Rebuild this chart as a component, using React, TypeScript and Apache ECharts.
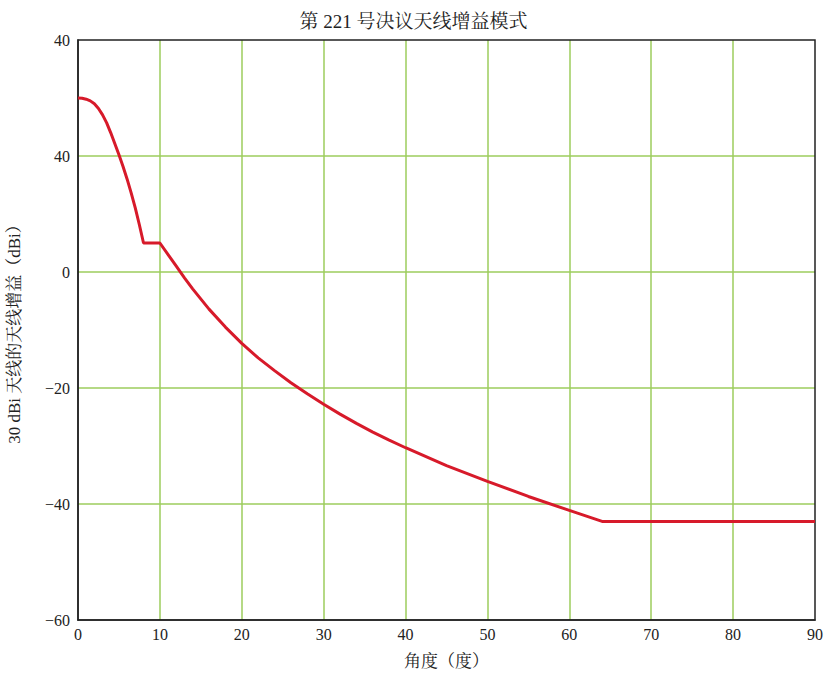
import React, { useEffect, useRef } from "react";
import * as echarts from "echarts";

const title = "第 221 号决议天线增益模式";
const xAxisName = "角度（度）";
const yAxisName = "30 dBi 天线的天线增益（dBi）";

const angles = [0, 0.5, 1, 1.5, 2, 2.5, 3, 3.5, 4, 4.5, 5, 5.5, 6, 6.5, 7, 7.5, 8, 10, 11, 12, 13, 14, 16, 18, 20, 22, 24, 26, 28, 30, 32, 34, 36, 38, 40, 45, 50, 55, 60, 64, 70, 80, 90];
const gains = [30, 29.95, 29.8, 29.5, 29.0, 28.2, 27.1, 25.7, 24.0, 22.1, 20.2, 18.2, 16.0, 13.6, 11.0, 8.1, 5, 5, 3.0, 1.0, -1.0, -2.9, -6.4, -9.5, -12.3, -14.8, -17.0, -19.1, -21.0, -22.8, -24.5, -26.1, -27.6, -29.0, -30.3, -33.4, -36.1, -38.7, -41.1, -43.0, -43.0, -43.0, -43.0];

const yTickValues = [-60, -40, -20, 0, 20, 40];
const yTickLabels = ["−60", "−40", "−20", "0", "40", "40"];

const serif = "'Liberation Serif', 'Noto Serif CJK SC', 'Noto Sans CJK SC', serif";

export default function App() {
  const ref = useRef<HTMLDivElement>(null);
  useEffect(() => {
    if (!ref.current) return;
    const chart = echarts.init(ref.current, undefined, { renderer: "svg" });
    const data = angles.map((a, i) => [a, gains[i]]);
    chart.setOption({
      animation: false,
      backgroundColor: "#ffffff",
      title: {
        text: title,
        left: "center",
        top: 7,
        textStyle: { fontFamily: serif, fontSize: 19, fontWeight: "normal", color: "#222" },
      },
      grid: {
        left: 78,
        right: 12,
        top: 40,
        bottom: 53,
        containLabel: false,
        outerBoundsMode: "none",
        show: true,
        borderColor: "#222",
        borderWidth: 1.5,
        backgroundColor: "transparent",
        z: 3,
      },
      xAxis: {
        type: "value",
        min: 0,
        max: 90,
        interval: 10,
        name: xAxisName,
        nameLocation: "middle",
        nameGap: 33,
        nameTextStyle: { fontFamily: serif, fontSize: 17, color: "#222" },
        axisLine: { show: true, onZero: false, lineStyle: { color: "#222", width: 1.5 } },
        axisTick: { show: false },
        axisLabel: { fontFamily: serif, fontSize: 16, color: "#222", margin: 6 },
        splitLine: { show: true, showMinLine: false, showMaxLine: false, lineStyle: { color: "#9dcc5c", width: 1.5 } },
      },
      yAxis: {
        type: "value",
        min: -60,
        max: 40,
        interval: 20,
        name: yAxisName,
        nameLocation: "middle",
        nameGap: 55,
        nameTextStyle: { fontFamily: serif, fontSize: 17, color: "#222" },
        axisLine: { show: true, onZero: false, lineStyle: { color: "#222", width: 1.5 } },
        axisTick: { show: false },
        axisLabel: {
          fontFamily: serif,
          fontSize: 16,
          color: "#222",
          margin: 8,
          formatter: (v: number) => {
            const i = yTickValues.indexOf(v);
            return i >= 0 ? yTickLabels[i] : String(v);
          },
        },
        splitLine: { show: true, showMinLine: false, showMaxLine: false, lineStyle: { color: "#9dcc5c", width: 1.5 } },
      },
      series: [
        {
          type: "line",
          data,
          showSymbol: false,
          smooth: false,
          lineStyle: { color: "#d71a2a", width: 3 },
          z: 5,
        },
      ],
    });
    return () => chart.dispose();
  }, []);
  return (
    <div
      ref={ref}
      style={{ position: "fixed", left: 0, top: 0, width: 827, height: 673 }}
    />
  );
}
